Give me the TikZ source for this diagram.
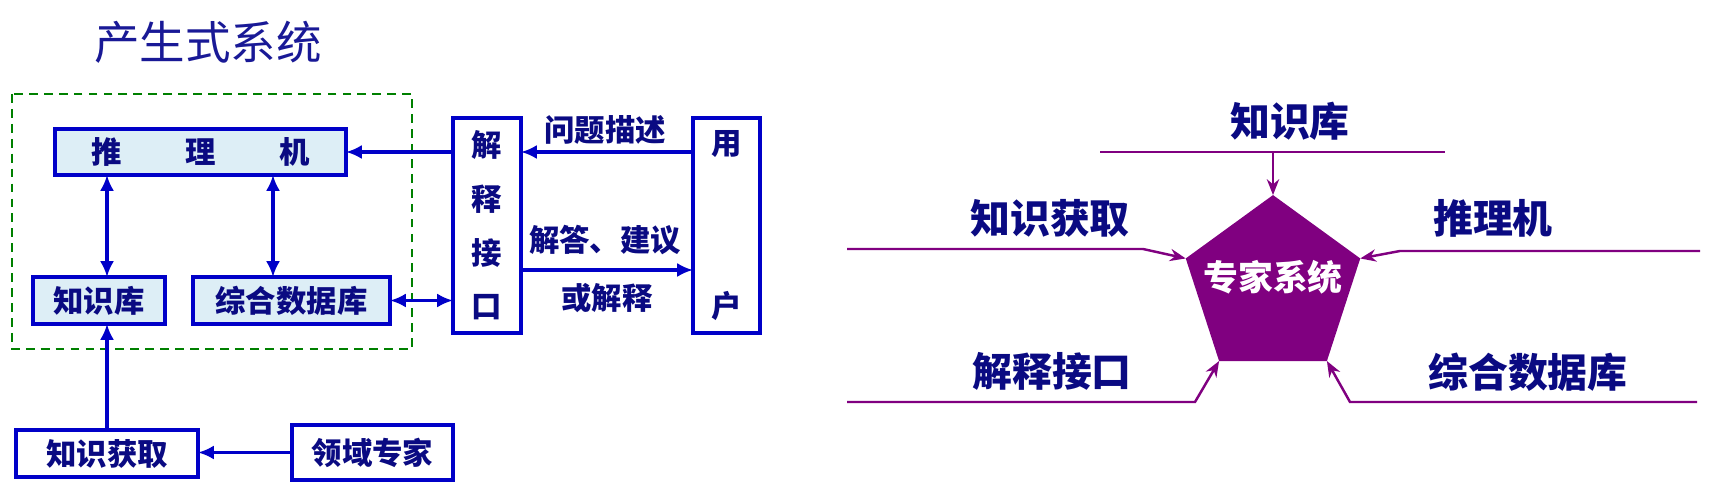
\documentclass[tikz,border=0pt]{standalone}
\usepackage{fontspec}
\newfontfamily\cjk{Noto Sans CJK SC}
\usetikzlibrary{arrows.meta,shapes.geometric}
\definecolor{lineblue}{RGB}{0,0,200}
\definecolor{boxfill}{RGB}{221,238,246}
\definecolor{txtnavy}{RGB}{10,10,130}
\definecolor{ttlnavy}{RGB}{25,25,150}
\definecolor{framegreen}{RGB}{0,128,0}
\definecolor{espurple}{RGB}{128,0,128}
\tikzset{
  blk/.style={draw=lineblue,line width=1.9pt,inner sep=0pt,outer sep=0pt,text=txtnavy,
    font=\cjk\bfseries\fontsize{17.3}{20}\selectfont},
  blkfill/.style={blk,fill=boxfill},
  blarr/.style={draw=lineblue,line width=2pt,-{Latex[length=9pt,width=8pt]}},
  blarrs/.style={draw=lineblue,line width=2pt,{Latex[length=9pt,width=8pt]}-{Latex[length=9pt,width=8pt]}},
  lbl/.style={text=txtnavy,inner sep=0pt,font=\cjk\bfseries\fontsize{17.3}{20}\selectfont},
  biglbl/.style={text=txtnavy,inner sep=0pt,font=\cjk\bfseries\fontsize{22.7}{26}\selectfont},
  pline/.style={draw=espurple,line width=1.4pt,-{Stealth[length=9pt,width=7pt]}},
  frame/.style={draw=framegreen,line width=1.5pt,dash pattern=on 5pt off 3.5pt},
}
\begin{document}
\begin{tikzpicture}[x=0.02cm,y=-0.02cm]
\useasboundingbox (0,0) rectangle (1711,499);
%
\def\bh{0.94cm}
\def\gap{1.27cm}
%
% left: production system
\node[text=ttlnavy,inner sep=0pt,font=\cjk\fontsize{25.9}{30}\selectfont] (ttl) at (208,42) {产生式系统};
\draw[frame] (12,94) rectangle (412,349);
%
\node[blkfill,minimum width=5.82cm,minimum height=0.92cm] (rea) at (200.5,152) {推\hspace{\gap}理\hspace{\gap}机};
\node[blkfill,minimum width=2.64cm,minimum height=\bh] (kb) at (99,300.5) {知识库};
\node[blkfill,minimum width=3.94cm,minimum height=\bh] (db) at (291.5,300.5) {综合数据库};
\node[blk,minimum width=3.64cm,minimum height=\bh] (ka) at (107,453.5) {知识获取};
\node[blk,minimum width=3.22cm,minimum height=1.1cm] (ex) at (372.5,452.5) {领域专家};
\node[blk,minimum width=1.36cm,minimum height=4.3cm,align=center,
  font=\cjk\bfseries\fontsize{17.3}{30.6}\selectfont] (intf) at (487,225.5) {解\\释\\接\\口};
\node[blk,minimum width=1.34cm,minimum height=4.3cm,align=center,
  font=\cjk\bfseries\fontsize{17.3}{93}\selectfont] (user) at (726.5,225.5) {用\\户};
%
\coordinate (colA) at (107,0);
\coordinate (colB) at (273,0);
\coordinate (ansrow) at (0,270);
%
\draw[blarrs] (rea.south -| colA) -- (kb.north -| colA);
\draw[blarrs] (rea.south -| colB) -- (db.north -| colB);
\draw[blarr] (ka.north) -- (kb.south -| ka.north);
\draw[blarr] (ex.west) -- (ex.west -| ka.east);
\draw[blarrs] (db.east) -- (intf.west |- db.east);
\draw[blarr] (intf.west |- rea.east) -- (rea.east);
\draw[blarr] (user.west |- rea.east) -- (intf.east |- rea.east);
\draw[blarr] (intf.east |- ansrow) -- (user.west |- ansrow);
%
\node[lbl] (ask) at (605,130) {问题描述};
\node[lbl] (ans) at (605,240) {解答、建议};
\node[lbl] (ansb) at (607,298) {或解释};
%
% right: expert system
\node[regular polygon,regular polygon sides=5,minimum size=3.67cm,inner sep=0pt,outer sep=0pt,
  fill=espurple] (es) at (1273,286.8) {};
\node[text=white,inner sep=0pt,font=\cjk\bfseries\fontsize{19.8}{22}\selectfont] (esl) at (1273,277) {专家系统};
%
\node[biglbl] (rkb) at (1290,121) {知识库};
\node[biglbl] (rka) at (1050,218) {知识获取};
\node[biglbl] (rrea) at (1493,218) {推理机};
\node[biglbl] (rintf) at (1052,371) {解释接口};
\node[biglbl] (rdb) at (1528,372) {综合数据库};
%
\coordinate (kbL) at (1100,152);
\coordinate (kbR) at (1445,152);
\coordinate (kaL) at (847,249);
\coordinate (kaM) at (1143,249);
\coordinate (reR) at (1700,251);
\coordinate (reM) at (1400,251);
\coordinate (ifL) at (847,402);
\coordinate (ifM) at (1195,402);
\coordinate (dbR) at (1697,402);
\coordinate (dbM) at (1350,402);
%
\draw[pline,-] (kbL) -- (kbR);
\draw[pline] (es.corner 1 |- kbL) -- (es.corner 1);
\draw[pline] (kaL) -- (kaM) -- (es.corner 2);
\draw[pline] (reR) -- (reM) -- (es.corner 5);
\draw[pline] (ifL) -- (ifM) -- (es.corner 3);
\draw[pline] (dbR) -- (dbM) -- (es.corner 4);
%
\end{tikzpicture}
\end{document}
